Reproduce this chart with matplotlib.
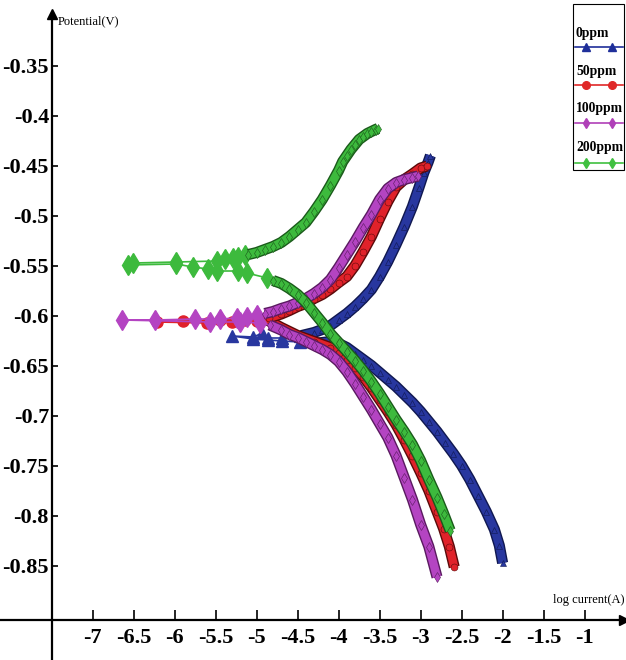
import matplotlib
matplotlib.use("Agg")
import matplotlib.pyplot as plt
import matplotlib.patheffects as pe
from matplotlib.patches import Rectangle
from matplotlib.lines import Line2D

# Tafel data: log current (A) vs potential (V)
# each curve: cathodic branch (from Ecorr outward), sparse points near Ecorr, anodic branch

# 0 ppm
p0_cat_x = [-4.35, -4.20, -4.10, -4.00, -3.90, -3.80, -3.70, -3.60, -3.50, -3.40, -3.30, -3.20, -3.10,
            -3.00, -2.90, -2.80, -2.70, -2.60, -2.50, -2.40, -2.30, -2.20, -2.10, -2.04, -2.00]
p0_cat_y = [-0.6285, -0.6270, -0.6260, -0.6280, -0.6320, -0.6380, -0.6440, -0.6500, -0.6570, -0.6640,
            -0.6710, -0.6790, -0.6870, -0.6960, -0.7060, -0.7160, -0.7270, -0.7380, -0.7500, -0.7640,
            -0.7800, -0.7960, -0.8140, -0.8300, -0.8475]
p0_tail_x = [-4.47, -4.69, -4.86, -5.04, -5.30, -5.04, -4.93, -4.86, -4.69, -4.47]
p0_tail_y = [-0.6265, -0.6255, -0.6245, -0.6235, -0.6205, -0.6215, -0.6175, -0.6225, -0.6225, -0.6205]
p0_an_x = [-4.45, -4.30, -4.20, -4.10, -4.00, -3.90, -3.80, -3.70, -3.60, -3.50, -3.40, -3.30, -3.20,
           -3.10, -3.02, -2.96, -2.91, -2.88]
p0_an_y = [-0.6200, -0.6170, -0.6140, -0.6100, -0.6040, -0.5980, -0.5910, -0.5830, -0.5740, -0.5610,
           -0.5460, -0.5290, -0.5110, -0.4910, -0.4720, -0.4570, -0.4470, -0.4400]

# 50 ppm
p50_cat_x = [-4.87, -4.70, -4.50, -4.30, -4.10, -4.00, -3.90, -3.80, -3.70, -3.60, -3.50, -3.40, -3.30,
             -3.20, -3.10, -3.00, -2.90, -2.80, -2.72, -2.65, -2.59]
p50_cat_y = [-0.6045, -0.6120, -0.6200, -0.6260, -0.6320, -0.6370, -0.6440, -0.6520, -0.6610, -0.6720,
             -0.6840, -0.6960, -0.7090, -0.7240, -0.7400, -0.7570, -0.7750, -0.7960, -0.8130, -0.8310,
             -0.8515]
p50_tail_x = [-5.00, -5.30, -5.61, -6.22, -5.90, -5.45, -5.14, -4.95]
p50_tail_y = [-0.6055, -0.6065, -0.6075, -0.6065, -0.6055, -0.6045, -0.6045, -0.6035]
p50_an_x = [-4.85, -4.70, -4.60, -4.50, -4.40, -4.30, -4.20, -4.10, -4.00, -3.90, -3.80, -3.70, -3.60,
            -3.50, -3.40, -3.30, -3.20, -3.10, -3.00, -2.92]
p50_an_y = [-0.6025, -0.5985, -0.5950, -0.5910, -0.5880, -0.5830, -0.5790, -0.5735, -0.5670, -0.5610,
            -0.5500, -0.5360, -0.5210, -0.5030, -0.4860, -0.4715, -0.4640, -0.4585, -0.4525, -0.4505]

# 100 ppm
p100_cat_x = [-4.84, -4.70, -4.60, -4.50, -4.40, -4.30, -4.20, -4.10, -4.00, -3.90, -3.80, -3.70, -3.60,
              -3.50, -3.40, -3.30, -3.20, -3.10, -3.00, -2.90, -2.80]
p100_cat_y = [-0.6095, -0.6145, -0.6190, -0.6220, -0.6260, -0.6300, -0.6340, -0.6390, -0.6460, -0.6560,
              -0.6680, -0.6810, -0.6940, -0.7080, -0.7220, -0.7400, -0.7620, -0.7840, -0.8090, -0.8310,
              -0.8615]
p100_tail_x = [-4.96, -5.20, -5.57, -6.64, -6.24, -5.75, -5.45, -5.24, -5.12, -5.00]
p100_tail_y = [-0.6075, -0.6065, -0.6065, -0.6045, -0.6045, -0.6035, -0.6035, -0.6025, -0.6015, -0.5995]
p100_an_x = [-4.90, -4.80, -4.70, -4.60, -4.50, -4.40, -4.30, -4.20, -4.10, -4.00, -3.90, -3.80, -3.70,
             -3.60, -3.50, -3.40, -3.30, -3.20, -3.10, -3.03]
p100_an_y = [-0.5980, -0.5960, -0.5930, -0.5905, -0.5870, -0.5830, -0.5780, -0.5720, -0.5640, -0.5520,
             -0.5390, -0.5260, -0.5120, -0.4990, -0.4840, -0.4730, -0.4670, -0.4640, -0.4620, -0.4605]

# 200 ppm
p200_cat_x = [-4.80, -4.70, -4.60, -4.50, -4.40, -4.30, -4.20, -4.10, -4.00, -3.90, -3.80, -3.70, -3.60,
              -3.50, -3.40, -3.30, -3.20, -3.10, -3.00, -2.90, -2.80, -2.72, -2.64]
p200_cat_y = [-0.5650, -0.5680, -0.5730, -0.5790, -0.5870, -0.5970, -0.6070, -0.6180, -0.6270, -0.6360,
              -0.6450, -0.6550, -0.6660, -0.6780, -0.6910, -0.7040, -0.7160, -0.7290, -0.7450, -0.7640,
              -0.7820, -0.7980, -0.8150]
p200_tail_x = [-4.87, -5.12, -5.23, -5.48, -5.59, -5.78, -5.98, -6.57, -6.51, -5.98, -5.48, -5.39, -5.29,
               -5.23, -5.14]
p200_tail_y = [-0.5625, -0.5575, -0.5555, -0.5555, -0.5535, -0.5515, -0.5485, -0.5495, -0.5475, -0.5465,
               -0.5455, -0.5435, -0.5425, -0.5415, -0.5395]
p200_an_x = [-5.10, -5.00, -4.90, -4.80, -4.70, -4.60, -4.50, -4.40, -4.30, -4.20, -4.10, -4.00, -3.95,
             -3.90, -3.85, -3.80, -3.75, -3.70, -3.65, -3.60, -3.55, -3.52]
p200_an_y = [-0.539, -0.537, -0.534, -0.531, -0.527, -0.521, -0.514, -0.507, -0.496, -0.484, -0.470,
             -0.455, -0.446, -0.440, -0.434, -0.429, -0.424, -0.421, -0.418, -0.416, -0.414, -0.413]

labels = ["0ppm", "50ppm", "100ppm", "200ppm"]
colors = ["#28379f", "#e0222a", "#b444c2", "#3dba3d"]
edges = ["#101850", "#5a0a0a", "#5a1a60", "#1a5a1a"]
legend_colors = ["#1f2f9a", "#e02828", "#b040b8", "#40c040"]
markers = ["^", "o", "d", "d"]

y_ticks = [-0.85, -0.8, -0.75, -0.7, -0.65, -0.6, -0.55, -0.5, -0.45, -0.4, -0.35]
x_ticks = [-7, -6.5, -6, -5.5, -5, -4.5, -4, -3.5, -3, -2.5, -2, -1.5, -1]

series = [
    (p0_cat_x, p0_cat_y, p0_tail_x, p0_tail_y, p0_an_x, p0_an_y),
    (p50_cat_x, p50_cat_y, p50_tail_x, p50_tail_y, p50_an_x, p50_an_y),
    (p100_cat_x, p100_cat_y, p100_tail_x, p100_tail_y, p100_an_x, p100_an_y),
    (p200_cat_x, p200_cat_y, p200_tail_x, p200_tail_y, p200_an_x, p200_an_y),
]

serif = ["Liberation Serif", "DejaVu Serif"]

fig = plt.figure(figsize=(6.26, 6.6), dpi=100)
ax = fig.add_axes([0, 0, 1, 1])
ax.set_xlim(-8.13, -0.495)
ax.set_ylim(-0.9445, -0.2845)

for i, (cx, cy, tx, ty, axx, ayy) in enumerate(series):
    z = 3 + i
    c, e, m = colors[i], edges[i], markers[i]
    # whole sweep, cathodic end -> Ecorr -> anodic end
    sx = cx[::-1] + tx + axx
    sy = cy[::-1] + ty + ayy
    ax.plot(sx, sy, color=c, lw=1.2, zorder=z)
    ax.plot(tx, ty, ls="none", marker=m, ms=10 if m == "d" else 8, mfc=c, mec=c, zorder=z)
    for bx, by in ((cx, cy), (axx, ayy)):
        ax.plot(bx, by, color=c, lw=6, solid_capstyle="butt", zorder=z,
                path_effects=[pe.Stroke(linewidth=8, foreground=e), pe.Normal()])
        ax.plot(bx, by, ls="none", marker=m, ms=5, mfc=c, mec=e, mew=0.4, zorder=z)

# axes drawn through (-7.5, -0.9045)
for s in ["top", "right"]:
    ax.spines[s].set_visible(False)
ax.spines["left"].set_position(("data", -7.5))
ax.spines["bottom"].set_position(("data", -0.9045))
ax.spines["left"].set_bounds(-0.9445, -0.2985)
ax.spines["bottom"].set_bounds(-8.13, -0.53)
for s in ["left", "bottom"]:
    ax.spines[s].set_linewidth(1.6)
ax.plot(-7.5, -0.2985, marker="^", ms=7, color="k", clip_on=False, zorder=10)
ax.plot(-0.52, -0.9045, marker=">", ms=7, color="k", clip_on=False, zorder=10)

ax.set_yticks(y_ticks)
ax.set_yticklabels([f"{v:g}" for v in y_ticks])
ax.set_xticks(x_ticks)
ax.set_xticklabels([f"{v:g}" for v in x_ticks])
ax.tick_params(axis="y", direction="in", length=4, width=1.2, pad=2)
ax.tick_params(axis="x", direction="in", length=7, width=1.2, pad=6)
for lab in ax.get_yticklabels() + ax.get_xticklabels():
    lab.set_fontfamily(serif)
    lab.set_fontweight("bold")
    lab.set_fontsize(16)

ax.text(0.092, 0.967, "Potential(V)", transform=ax.transAxes, ha="left", va="center",
        fontsize=9, family=serif)
ax.text(0.998, 0.091, "log current(A)", transform=ax.transAxes, ha="right", va="center",
        fontsize=9, family=serif)

# legend box
ax.add_patch(Rectangle((0.916, 0.742), 0.081, 0.252, transform=ax.transAxes, fill=False,
                       ec="k", lw=0.8, zorder=20))
text_y = [0.950, 0.891, 0.835, 0.776]
line_y = [0.929, 0.871, 0.814, 0.753]
for i, lab in enumerate(labels):
    ax.text(0.920, text_y[i], lab, transform=ax.transAxes, ha="left", va="center",
            fontsize=9.8, fontweight="bold", family=serif, zorder=21)
    ax.add_line(Line2D([0.919, 0.995], [line_y[i], line_y[i]], transform=ax.transAxes,
                       color=legend_colors[i], lw=1.2, zorder=21))
    ax.add_line(Line2D([0.936, 0.977], [line_y[i], line_y[i]], transform=ax.transAxes,
                       ls="none", marker=markers[i], ms=5.5, color=legend_colors[i], zorder=21))

fig.savefig("out.png", dpi=100)
